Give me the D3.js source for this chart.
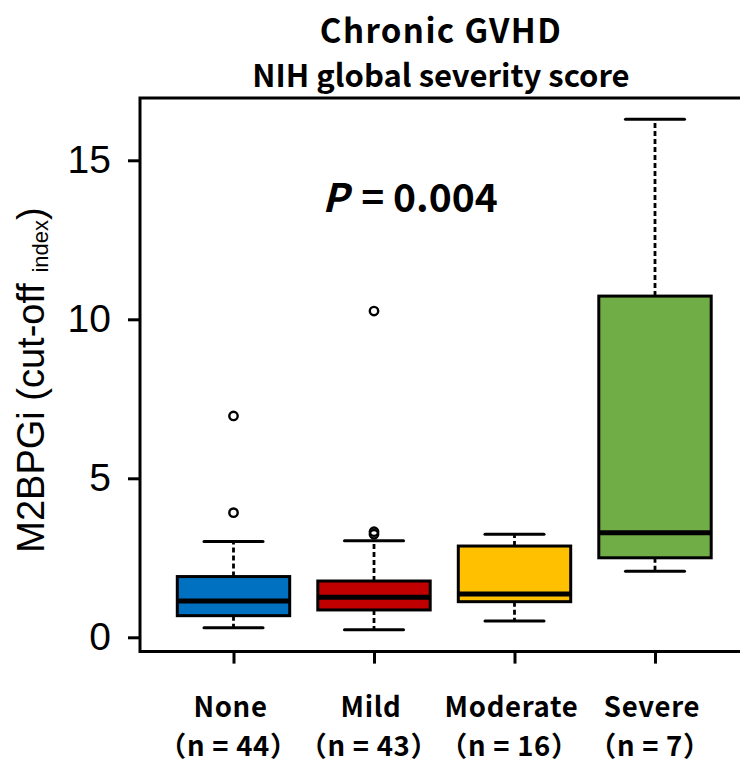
<!DOCTYPE html>
<html>
<head>
<meta charset="utf-8">
<script src="https://cdn.jsdelivr.net/npm/d3@7"></script>
<style>
  html, body { margin: 0; padding: 0; background: #fff; }
  svg { display: block; }
</style>
</head>
<body>
<svg id="chart" width="740" height="764"></svg>
<script>
// Chronic GVHD groups (NIH global severity score)
const categories = ["None", "Mild", "Moderate", "Severe"];
const counts = [44, 43, 16, 7];
const colors = ["#0070C0", "#C00000", "#FFC000", "#70AD47"];

// Five-number summaries of M2BPGi per group
const whiskerLow  = [0.30, 0.24, 0.51, 2.08];
const q1          = [0.68, 0.86, 1.12, 2.50];
const medians     = [1.14, 1.26, 1.36, 3.29];
const q3          = [1.91, 1.77, 2.87, 10.73];
const whiskerHigh = [3.01, 3.04, 3.24, 16.29];

// Outlying observations: [group index, value]
const outliers = [[0, 3.92], [0, 6.96], [1, 3.24], [1, 3.32], [1, 10.26]];

const yTicks = [0, 5, 10, 15];

const svg = d3.select("#chart");
const jp = "'Noto Sans CJK JP', 'Noto Sans', sans-serif";
const latin = "'Liberation Sans', Arial, sans-serif";

const x = d3.scaleLinear().domain([1, 4]).range([233.5, 655]);
const y = d3.scaleLinear().domain([0, 15]).range([637.3, 160.3]);
const step = x(2) - x(1);
const boxW = step * 0.8;
const capW = step * 0.42;

const plotLeft = 140, plotTop = y(16.96), plotBottom = y(-0.45), plotRight = 760;

// Frame: left, top and bottom lines
svg.append("path")
  .attr("d", `M${plotRight},${plotTop}H${plotLeft}V${plotBottom}H${plotRight}`)
  .attr("fill", "none").attr("stroke", "#000").attr("stroke-width", 3);

// Y axis
const yAxis = d3.axisLeft(y).tickValues(yTicks).tickSize(12).tickPadding(17).tickFormat(d3.format("d"));
const gy = svg.append("g").attr("transform", `translate(${plotLeft},0)`).call(yAxis);
gy.select(".domain").remove();
gy.selectAll(".tick line").attr("stroke", "#000").attr("stroke-width", 3);
gy.selectAll(".tick text").attr("font-family", latin).attr("font-size", 39).attr("fill", "#000");

// X axis ticks
const xAxis = d3.axisBottom(x).tickValues([1, 2, 3, 4]).tickSize(12).tickFormat("");
const gx = svg.append("g").attr("transform", `translate(0,${plotBottom})`).call(xAxis);
gx.select(".domain").remove();
gx.selectAll(".tick line").attr("stroke", "#000").attr("stroke-width", 3);

// Category labels: name plus group size on a second line
const lab = svg.append("g").attr("font-family", jp).attr("font-weight", 700)
  .attr("font-size", 27.5).attr("letter-spacing", 0.7).attr("text-anchor", "middle").attr("fill", "#000");
categories.forEach((c, i) => {
  const t = lab.append("text").attr("x", x(i + 1) - 3).attr("y", 717);
  t.append("tspan").attr("x", x(i + 1) - 3).text(c);
  t.append("tspan").attr("x", x(i + 1) - 5).attr("dy", 39).text(`（n = ${counts[i]}）`);
});

// Boxes
const groups = svg.append("g").selectAll("g").data(categories).join("g");
groups.each(function(c, i) {
  const g = d3.select(this);
  const cx = x(i + 1);
  // whiskers
  g.append("line").attr("x1", cx).attr("x2", cx).attr("y1", y(q3[i])).attr("y2", y(whiskerHigh[i]))
    .attr("stroke", "#000").attr("stroke-width", 2.8).attr("stroke-dasharray", "5,3");
  g.append("line").attr("x1", cx).attr("x2", cx).attr("y1", y(q1[i])).attr("y2", y(whiskerLow[i]))
    .attr("stroke", "#000").attr("stroke-width", 2.8).attr("stroke-dasharray", "5,3");
  // caps
  [whiskerHigh[i], whiskerLow[i]].forEach(v => {
    g.append("line").attr("x1", cx - capW / 2).attr("x2", cx + capW / 2).attr("y1", y(v)).attr("y2", y(v))
      .attr("stroke", "#000").attr("stroke-width", 3).attr("stroke-linecap", "round");
  });
  // box
  g.append("rect").attr("x", cx - boxW / 2).attr("width", boxW)
    .attr("y", y(q3[i])).attr("height", y(q1[i]) - y(q3[i]))
    .attr("fill", colors[i]).attr("stroke", "#000").attr("stroke-width", 3);
  // median
  g.append("line").attr("x1", cx - boxW / 2).attr("x2", cx + boxW / 2).attr("y1", y(medians[i])).attr("y2", y(medians[i]))
    .attr("stroke", "#000").attr("stroke-width", 5);
});

// Outliers
svg.append("g").selectAll("circle").data(outliers).join("circle")
  .attr("cx", d => x(d[0] + 1)).attr("cy", d => y(d[1])).attr("r", 4.2)
  .attr("fill", "none").attr("stroke", "#000").attr("stroke-width", 2.4);

// Title
const title = svg.append("g").attr("font-family", jp).attr("font-weight", 700)
  .attr("text-anchor", "middle").attr("fill", "#000");
title.append("text").attr("x", 441).attr("y", 43).attr("font-size", 33).attr("letter-spacing", 1.4).text("Chronic GVHD");
title.append("text").attr("x", 441).attr("y", 87).attr("font-size", 31).text("NIH global severity score");

// P value annotation
const pt = svg.append("text").attr("x", 410).attr("y", 212).attr("text-anchor", "middle")
  .attr("font-family", jp).attr("font-weight", 700).attr("font-size", 39).attr("fill", "#000");
pt.append("tspan").attr("font-style", "italic").text("P");
pt.append("tspan").attr("dx", 4).text(" =  0.004");

// Y axis title with subscript
const yl = svg.append("text").attr("transform", "translate(44,380) rotate(-90)")
  .attr("text-anchor", "middle").attr("font-family", latin).attr("font-size", 38).attr("fill", "#000");
yl.append("tspan").text("M2BPGi (cut-off ");
yl.append("tspan").attr("font-size", 22).attr("dy", 4).text("index");
yl.append("tspan").attr("dy", -4).text(")");
</script>
</body>
</html>
